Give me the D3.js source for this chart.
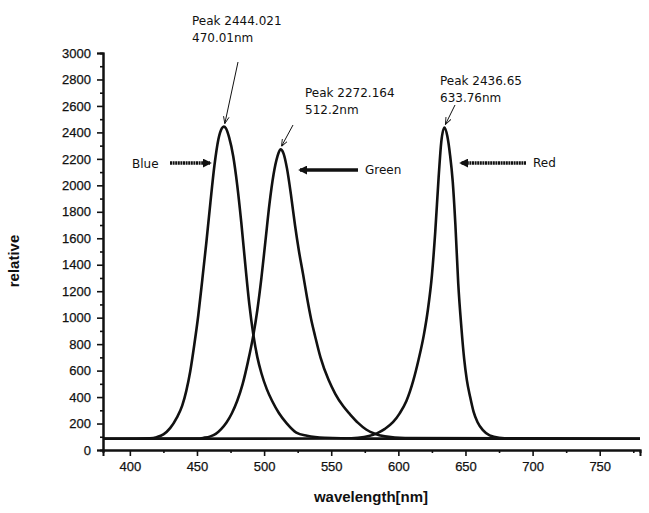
<!DOCTYPE html>
<html>
<head>
<meta charset="utf-8">
<script src="https://cdn.jsdelivr.net/npm/d3@7"></script>
<style>
  html, body { margin: 0; padding: 0; background: #fff; }
  svg { display: block; }
</style>
</head>
<body>
<svg id="chart" width="649" height="513"></svg>
<script>
// ---- data ----
const blueWl  = [380, 405, 415, 420, 425, 430, 435, 439, 442, 445, 448, 451, 454, 457, 460, 463, 466, 468.5, 470, 471.5, 474, 477, 480, 483, 486, 489, 492, 495, 498, 502, 506, 511, 517, 524, 532, 545, 570, 780];
const blueVal = [85, 85, 88, 97, 118, 165, 245, 335, 445, 595, 795, 1020, 1290, 1570, 1870, 2150, 2350, 2430, 2444, 2432, 2360, 2220, 2000, 1720, 1400, 1100, 870, 700, 580, 460, 370, 280, 200, 132, 108, 92, 86, 85];

const greenWl  = [380, 450, 455, 460, 464, 468, 472, 476, 480, 484, 488, 492, 495, 498, 501, 504, 507, 510, 512.2, 514.5, 517, 520, 523, 526, 529, 532, 535, 538, 542, 548, 553, 559, 564, 570, 576, 582, 590, 605, 780];
const greenVal = [85, 86, 92, 103, 122, 158, 208, 278, 372, 498, 668, 868, 1060, 1300, 1580, 1860, 2080, 2220, 2272, 2240, 2130, 1930, 1700, 1500, 1330, 1150, 990, 860, 700, 530, 425, 330, 270, 205, 155, 125, 103, 90, 85];

const redWl  = [380, 560, 570, 578, 584, 590, 596, 601, 606, 611, 615, 619, 622, 625, 627.5, 630, 632, 634.3, 636.5, 638.5, 640.5, 642.5, 644.6, 647, 649, 651, 653.5, 656, 659, 663, 668, 675, 690, 780];
const redVal = [85, 87, 92, 105, 126, 160, 210, 277, 370, 520, 680, 870, 1060, 1320, 1650, 2060, 2330, 2437, 2370, 2230, 2030, 1700, 1260, 920, 690, 530, 400, 290, 210, 150, 110, 93, 86, 85];

const xMajorTicks = [400, 450, 500, 550, 600, 650, 700, 750];
const xMinorTicks = [425, 475, 525, 575, 625, 675, 725, 775];
const yMajorTicks = [0, 200, 400, 600, 800, 1000, 1200, 1400, 1600, 1800, 2000, 2200, 2400, 2600, 2800, 3000];
const yMinorTicks = [100, 300, 500, 700, 900, 1100, 1300, 1500, 1700, 1900, 2100, 2300, 2500, 2700, 2900];

const xTitle = "wavelength[nm]";
const yTitle = "relative";

const peakLabels = [
  ["Peak 2444.021", "470.01nm"],
  ["Peak 2272.164", "512.2nm"],
  ["Peak 2436.65", "633.76nm"]
];
const peakAt = [[470, 2444], [512.2, 2272], [634.3, 2437]];
const seriesNames = ["Blue", "Green", "Red"];

// ---- drawing ----
const svg = d3.select("#chart");
const x = d3.scaleLinear().domain([380, 780]).range([103, 640]);
const y = d3.scaleLinear().domain([0, 3000]).range([450, 53]);

const ink = "#111";
const tickFont = "'Liberation Sans', Arial, sans-serif";
const annFont = "'DejaVu Sans', Verdana, sans-serif";

const defs = svg.append("defs");
defs.append("marker").attr("id", "thinHead")
  .attr("viewBox", "0 0 10 10").attr("refX", 10).attr("refY", 5)
  .attr("markerWidth", 7).attr("markerHeight", 7).attr("markerUnits", "userSpaceOnUse")
  .attr("orient", "auto")
  .append("path").attr("d", "M0,1 L10,5 L0,9").attr("fill", "none").attr("stroke", ink).attr("stroke-width", 1.3);
defs.append("marker").attr("id", "thickHead")
  .attr("viewBox", "0 0 10 10").attr("refX", 8).attr("refY", 5)
  .attr("markerWidth", 9).attr("markerHeight", 9).attr("markerUnits", "userSpaceOnUse")
  .attr("orient", "auto")
  .append("path").attr("d", "M0,0 L10,5 L0,10 Z").attr("fill", ink);

// axes
function styleAxis(g) {
  g.select(".domain").attr("stroke", ink).attr("stroke-width", 2);
  g.selectAll(".tick line").attr("stroke", ink).attr("stroke-width", 1.6);
  g.selectAll(".tick text").attr("fill", ink).attr("font-family", tickFont).attr("font-size", 13)
    .attr("stroke", ink).attr("stroke-width", 0.25);
}
const gxMinor = svg.append("g").attr("transform", "translate(0,450)")
  .call(d3.axisBottom(x).tickValues(xMinorTicks).tickSize(3).tickFormat(""));
styleAxis(gxMinor);
const gx = svg.append("g").attr("transform", "translate(0,450)")
  .call(d3.axisBottom(x).tickValues(xMajorTicks).tickSize(6).tickPadding(6).tickFormat(d3.format("d")));
styleAxis(gx);

const gyMinor = svg.append("g").attr("transform", "translate(103,0)")
  .call(d3.axisLeft(y).tickValues(yMinorTicks).tickSize(3).tickFormat(""));
styleAxis(gyMinor);
const gy = svg.append("g").attr("transform", "translate(103,0)")
  .call(d3.axisLeft(y).tickValues(yMajorTicks).tickSize(6).tickPadding(6).tickFormat(d3.format("d")));
styleAxis(gy);

// axis titles
svg.append("text").attr("x", 371).attr("y", 502).attr("text-anchor", "middle")
  .attr("font-family", tickFont).attr("font-weight", "bold").attr("font-size", 15).attr("fill", ink)
  .text(xTitle);
svg.append("text").attr("transform", "translate(19,261) rotate(-90)").attr("text-anchor", "middle")
  .attr("font-family", tickFont).attr("font-weight", "bold").attr("font-size", 15).attr("fill", ink)
  .text(yTitle);

// curves
const line = d3.line().x(d => x(d[0])).y(d => y(d[1])).curve(d3.curveMonotoneX);
const series = [
  d3.zip(blueWl, blueVal),
  d3.zip(greenWl, greenVal),
  d3.zip(redWl, redVal)
];
svg.append("g").selectAll("path").data(series).join("path")
  .attr("d", line).attr("fill", "none").attr("stroke", ink)
  .attr("stroke-width", 2.6).attr("stroke-linejoin", "round");

// peak annotations
const labelPos = [[192, 25], [305, 97], [440, 85]];
const arrowFrom = [[238, 62], [293, 125], [455, 105]];
peakLabels.forEach((lines, i) => {
  const t = svg.append("text").attr("font-family", annFont).attr("font-size", 12).attr("fill", ink);
  lines.forEach((s, j) => {
    t.append("tspan").attr("x", labelPos[i][0]).attr("y", labelPos[i][1] + j * 17).text(s);
  });
  svg.append("line")
    .attr("x1", arrowFrom[i][0]).attr("y1", arrowFrom[i][1])
    .attr("x2", x(peakAt[i][0]) + 1).attr("y2", y(peakAt[i][1]) - 3)
    .attr("stroke", ink).attr("stroke-width", 1)
    .attr("marker-end", "url(#thinHead)");
});

// series name arrows
const nameText = [[132, 168], [365, 174], [533, 167]];
const bigArrows = [[170, 163, 210, 163], [358, 170, 300, 170], [526, 163, 461, 163]];
seriesNames.forEach((s, i) => {
  svg.append("text").attr("x", nameText[i][0]).attr("y", nameText[i][1])
    .attr("font-family", annFont).attr("font-size", 12).attr("fill", ink).text(s);
  const a = bigArrows[i];
  svg.append("line").attr("x1", a[0]).attr("y1", a[1]).attr("x2", a[2]).attr("y2", a[3])
    .attr("stroke", ink).attr("stroke-width", 3.5)
    .attr("stroke-dasharray", i === 1 ? null : "2,0.6")
    .attr("marker-end", "url(#thickHead)");
});
</script>
</body>
</html>
